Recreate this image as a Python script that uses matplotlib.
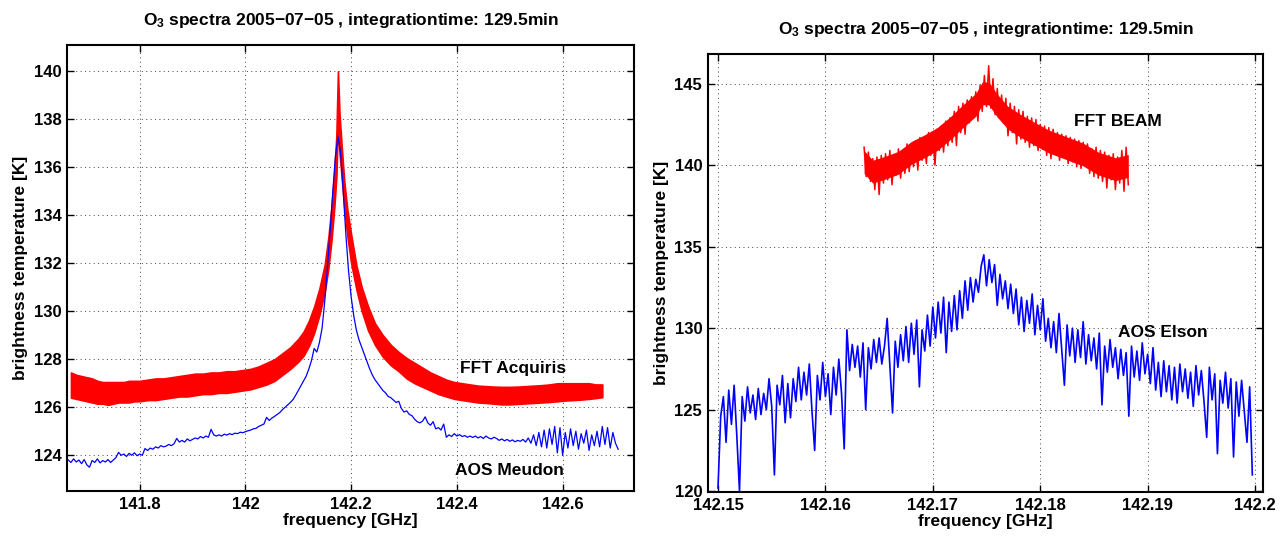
import numpy as np
import matplotlib
matplotlib.use("Agg")
import matplotlib.pyplot as plt

plt.rcParams['font.family'] = ['Liberation Sans', 'DejaVu Sans']
plt.rcParams['font.weight'] = 'bold'
plt.rcParams['mathtext.fontset'] = 'custom'
plt.rcParams['mathtext.rm'] = 'Liberation Sans:bold'
plt.rcParams['mathtext.bf'] = 'Liberation Sans:bold'
plt.rcParams['mathtext.default'] = 'bf'

# ---------------- data ----------------
title_text = "O$_3$ spectra 2005\u221207\u221205 , integrationtime: 129.5min"

# Left panel: FFT Acquiris (dense noisy band -> lower/upper envelope)
acq_freq = [141.670, 141.680, 141.690, 141.700, 141.710, 141.720, 141.730, 141.740, 141.750, 141.760,
            141.770, 141.780, 141.790, 141.800, 141.815, 141.830, 141.845, 141.860, 141.875, 141.890,
            141.905, 141.920, 141.935, 141.950, 141.965, 141.980, 141.995, 142.010, 142.025, 142.040,
            142.055, 142.070, 142.085, 142.100, 142.110, 142.120, 142.130, 142.140, 142.150, 142.157,
            142.163, 142.168, 142.172, 142.175, 142.178, 142.182, 142.187, 142.193, 142.200, 142.210,
            142.220, 142.232, 142.245, 142.260, 142.275, 142.290, 142.305, 142.320, 142.335, 142.350,
            142.365, 142.380, 142.395, 142.410, 142.425, 142.440, 142.455, 142.470, 142.485, 142.500,
            142.515, 142.530, 142.545, 142.560, 142.575, 142.590, 142.605, 142.620, 142.635, 142.650,
            142.662, 142.675]
acq_upper = [127.45, 127.35, 127.30, 127.25, 127.20, 127.10, 127.05, 127.05, 127.05, 127.05,
             127.05, 127.10, 127.10, 127.10, 127.15, 127.20, 127.20, 127.25, 127.30, 127.35,
             127.40, 127.40, 127.45, 127.45, 127.50, 127.50, 127.55, 127.60, 127.70, 127.85,
             128.00, 128.25, 128.50, 128.85, 129.15, 129.60, 130.20, 130.95, 131.95, 133.10,
             134.40, 135.80, 137.30, 140.00, 138.20, 136.90, 135.40, 134.20, 133.20, 131.90,
             131.00, 130.20, 129.50, 129.00, 128.60, 128.30, 128.05, 127.85, 127.65, 127.45,
             127.30, 127.15, 127.05, 127.00, 126.95, 126.90, 126.88, 126.86, 126.85, 126.85,
             126.86, 126.88, 126.90, 126.92, 126.95, 127.00, 127.00, 127.00, 127.00, 127.00,
             126.95, 126.95]
acq_lower = [126.40, 126.35, 126.30, 126.25, 126.20, 126.15, 126.15, 126.10, 126.15, 126.20,
             126.20, 126.20, 126.25, 126.25, 126.30, 126.30, 126.35, 126.40, 126.45, 126.45,
             126.50, 126.55, 126.55, 126.60, 126.60, 126.65, 126.70, 126.75, 126.85, 126.95,
             127.10, 127.35, 127.60, 127.90, 128.15, 128.55, 129.10, 129.85, 130.80, 131.80,
             133.00, 134.30, 135.60, 137.80, 136.60, 135.60, 134.30, 133.10, 132.00, 130.90,
             130.00, 129.20, 128.60, 128.10, 127.75, 127.50, 127.20, 127.00, 126.85, 126.70,
             126.55, 126.45, 126.35, 126.30, 126.25, 126.20, 126.18, 126.15, 126.12, 126.12,
             126.14, 126.16, 126.18, 126.20, 126.22, 126.25, 126.28, 126.30, 126.32, 126.35,
             126.38, 126.42]

# Left panel: AOS Meudon (channel grid 141.665 .. 142.705, step 5 MHz)
meudon_start, meudon_stop = 141.665, 142.705
meudon_temp = [
    123.80, 123.70, 123.85, 123.72, 123.80, 123.65, 123.82, 123.60, 123.50, 123.78,
    123.70, 123.85, 123.68, 123.78, 123.72, 123.82, 123.70, 123.80, 123.90, 124.12,
    124.00, 124.05, 123.95, 124.08, 124.00, 124.10, 123.98, 124.05, 124.00, 124.28,
    124.20, 124.30, 124.25, 124.35, 124.30, 124.40, 124.35, 124.38, 124.45, 124.40,
    124.48, 124.70, 124.55, 124.62, 124.55, 124.68, 124.60, 124.66, 124.72, 124.68,
    124.78, 124.72, 124.80, 124.75, 125.08, 124.85, 124.80, 124.85, 124.80, 124.88,
    124.84, 124.90, 124.86, 124.92, 124.90, 124.96, 124.94, 124.98, 125.02, 125.05,
    125.10, 125.12, 125.20, 125.25, 125.30, 125.58, 125.45, 125.55, 125.62, 125.70,
    125.78, 125.90, 126.00, 126.10, 126.20, 126.32, 126.50, 126.70, 126.90, 127.10,
    127.30, 127.60, 127.95, 128.45, 128.30, 128.70, 129.30, 130.40, 131.80, 133.30,
    134.90, 136.40, 137.30, 136.60, 135.00, 133.20, 131.70, 130.60, 129.80, 129.20,
    128.80, 128.50, 128.20, 127.90, 127.60, 127.35, 127.15, 127.00, 126.85, 126.70,
    126.60, 126.45, 126.40, 126.30, 126.20, 126.25, 125.95, 125.80, 125.85, 125.70,
    125.65, 125.50, 125.40, 125.35, 125.42, 125.60, 125.35, 125.25, 125.40, 125.10,
    125.15, 125.05, 125.30, 124.75, 124.85, 124.78, 124.90, 124.80, 124.86, 124.78,
    124.82, 124.75, 124.80, 124.74, 124.80, 124.72, 124.78, 124.70, 124.80, 124.72,
    124.68, 124.75, 124.70, 124.62, 124.68, 124.60, 124.66, 124.58, 124.64, 124.56,
    124.62, 124.58, 124.66, 124.55, 124.72, 124.50, 124.85, 124.40, 124.95, 124.35,
    125.05, 124.30, 125.10, 124.45, 125.20, 124.10, 125.15, 124.00, 124.95, 124.30,
    125.10, 124.40, 125.00, 124.25, 124.90, 124.50, 125.05, 124.20, 124.85, 124.40,
    125.00, 124.35, 125.20, 124.45, 125.15, 124.30, 124.95, 124.50, 124.25]

# Right panel: FFT BEAM (channel grid 142.1636 .. 142.1882) + dense core band
beam_start, beam_stop = 142.1636, 142.1882
beam_temp = [
    141.1, 139.3, 140.8, 139.0, 140.4, 138.5, 140.5, 138.2, 140.6, 138.9,
    140.7, 139.1, 140.9, 138.8, 140.6, 139.4, 141.0, 139.2, 140.8, 139.5,
    141.3, 139.6, 141.0, 139.9, 141.5, 139.7, 141.7, 140.3, 141.6, 140.1,
    142.0, 140.6, 141.8, 140.0, 142.2, 140.9, 142.4, 140.8, 142.7, 141.2,
    142.9, 141.4, 143.3, 141.2, 143.6, 142.0, 143.8, 141.9, 144.0, 142.6,
    144.2, 142.9, 144.5, 142.7, 144.9, 143.3, 145.5, 143.6, 146.1, 143.5,
    145.3, 143.1, 144.7, 142.9, 144.3, 142.6, 144.1, 141.8, 143.8, 142.0,
    143.6, 141.3, 143.4, 141.6, 143.3, 141.4, 143.0, 141.1, 142.9, 141.2,
    142.8, 140.9, 142.5, 141.0, 142.4, 140.6, 142.3, 140.4, 142.2, 140.7,
    142.0, 140.3, 141.9, 140.5, 141.8, 140.1, 141.7, 140.2, 141.6, 139.9,
    141.5, 139.8, 141.4, 140.0, 141.3, 139.5, 141.0, 139.3, 141.1, 139.2,
    140.9, 139.0, 140.8, 138.6, 140.6, 139.1, 140.7, 138.5, 140.5, 138.9,
    140.9, 138.4, 141.1, 138.8]
beam_core_freq = [142.1636, 142.1644, 142.1656, 142.1668, 142.1680, 142.1692, 142.1704, 142.1716,
                  142.1728, 142.1740, 142.1746, 142.1752, 142.1760, 142.1770, 142.1782, 142.1794,
                  142.1808, 142.1824, 142.1840, 142.1854, 142.1870, 142.1882]
beam_core_lower = [139.50, 138.90, 139.15, 139.45, 140.05, 140.45, 140.90, 141.55, 142.30, 143.00,
                   143.70, 143.70, 142.95, 142.20, 141.70, 141.25, 140.75, 140.35, 139.95, 139.40,
                   139.05, 139.25]
beam_core_upper = [140.90, 140.30, 140.55, 140.85, 141.45, 141.85, 142.30, 142.95, 143.70, 144.40,
                   145.10, 145.10, 144.35, 143.60, 143.10, 142.65, 142.15, 141.75, 141.35, 140.80,
                   140.45, 140.65]

# Right panel: AOS Elson (channel grid 142.1500 .. 142.19975)
elson_start, elson_stop = 142.1500, 142.19975
elson_temp = [
    120.2, 124.6, 125.8, 123.0, 126.2, 124.1, 126.5, 123.4, 120.0, 125.8,
    124.3, 126.4, 124.8, 125.9, 124.4, 126.3, 124.7, 126.0, 125.0, 126.9,
    125.2, 121.0, 126.5, 125.3, 127.1, 124.2, 126.6, 124.5, 126.9, 125.5,
    127.6, 125.6, 127.3, 125.9, 127.8, 124.9, 122.5, 127.1, 125.6, 127.9,
    125.8, 127.2, 124.7, 127.6, 125.9, 128.1, 126.0, 122.6, 129.9, 127.4,
    129.0, 127.6, 128.9, 127.0, 129.1, 125.0, 128.8, 127.5, 129.3, 127.9,
    129.4, 127.8, 128.9, 130.6, 127.7, 124.8, 129.2, 127.6, 129.6, 128.0,
    130.1, 127.9, 130.3, 128.4, 130.5, 126.4, 129.9, 128.6, 130.8, 128.9,
    131.3, 129.4, 131.6, 129.7, 131.9, 128.5, 131.6, 129.8, 132.0, 129.9,
    132.3, 130.6, 132.9, 131.1, 133.1, 131.6, 133.0, 132.2, 133.8, 134.5,
    132.6, 134.2, 132.8, 133.9, 131.4, 133.3, 131.8, 132.9, 131.2, 132.7,
    130.9, 132.4, 130.2, 131.9, 129.8, 131.7, 130.3, 132.1, 129.6, 131.4,
    129.9, 131.8, 129.2, 130.6, 128.8, 130.4, 128.5, 130.9, 128.7, 126.5,
    130.2, 128.3, 130.0, 127.9, 129.9, 128.2, 130.4, 127.8, 129.6, 128.0,
    129.4, 127.5, 129.7, 125.3, 128.9, 127.3, 129.3, 127.6, 128.8, 126.9,
    128.7, 127.1, 128.5, 124.6, 128.9, 127.0, 128.6, 126.8, 129.1, 127.2,
    128.4, 126.6, 128.8, 126.2, 127.9, 125.8, 128.0, 126.1, 127.7, 125.6,
    127.6, 125.4, 127.8, 126.1, 127.5, 125.7, 127.3, 125.2, 127.7, 125.9,
    127.4, 125.5, 123.3, 127.6, 125.6, 127.2, 122.3, 126.8, 125.4, 127.3,
    125.1, 126.9, 122.1, 126.7, 124.6, 126.8, 124.9, 123.0, 126.4, 121.0]

left_xticks = [141.8, 142.0, 142.2, 142.4, 142.6]
left_xticklabels = ['141.8', '142', '142.2', '142.4', '142.6']
left_yticks = [124, 126, 128, 130, 132, 134, 136, 138, 140]
right_xticks = [142.15, 142.16, 142.17, 142.18, 142.19, 142.2]
right_xticklabels = ['142.15', '142.16', '142.17', '142.18', '142.19', '142.2']
right_yticks = [120, 125, 130, 135, 140, 145]

# ---------------- figure ----------------
W, H = 1284, 538
fig = plt.figure(figsize=(W / 100, H / 100), dpi=100)

def px_axes(x0, y0, x1, y1):
    return fig.add_axes([x0 / W, 1 - y1 / H, (x1 - x0) / W, (y1 - y0) / H])

axL = px_axes(67, 44.7, 634, 491)
axR = px_axes(707.7, 54.3, 1263.3, 492)

FS = 12
FS_LAB = 12.5
grid_kw = dict(color='#444444', linestyle=(0, (1, 3.5)), linewidth=0.7)

def style(ax):
    ax.grid(True, **grid_kw)
    ax.set_axisbelow(True)
    ax.tick_params(direction='in', length=5, width=1, top=True, right=True,
                   labelsize=FS, pad=4)
    for sp in ax.spines.values():
        sp.set_linewidth(1.5)
    for lab in ax.get_xticklabels() + ax.get_yticklabels():
        lab.set_fontweight('bold')
    ax.set_title(title_text, fontsize=FS_LAB, fontweight='bold', pad=14.5)
    ax.set_xlabel('frequency [GHz]', fontsize=FS_LAB, fontweight='bold', labelpad=1)
    ax.set_ylabel('brightness temperature [K]', fontsize=FS_LAB, fontweight='bold', labelpad=4)

RED = '#ff0000'
BLUE = '#0000ff'

# Left panel
meudon_freq = np.linspace(meudon_start, meudon_stop, len(meudon_temp))
axL.fill_between(acq_freq, acq_lower, acq_upper, color=RED, linewidth=1.2,
                 edgecolor=RED, zorder=3)
axL.plot(meudon_freq, meudon_temp, color=BLUE, linewidth=0.9, zorder=4)
axL.set_xlim(141.6625, 142.735)
axL.set_ylim(122.51, 141.11)
axL.set_xticks(left_xticks)
axL.set_xticklabels(left_xticklabels)
axL.set_yticks(left_yticks)
axL.text(142.405, 127.6, 'FFT Acquiris', fontsize=FS_LAB, fontweight='bold', va='center', ha='left')
axL.text(142.397, 123.35, 'AOS Meudon', fontsize=FS_LAB, fontweight='bold', va='center', ha='left')
style(axL)

# Right panel
beam_freq = np.linspace(beam_start, beam_stop, len(beam_temp))
elson_freq = np.linspace(elson_start, elson_stop, len(elson_temp))
axR.fill_between(beam_core_freq, beam_core_lower, beam_core_upper, color=RED, linewidth=0, zorder=3)
axR.plot(beam_freq, beam_temp, color=RED, linewidth=1.1, zorder=3)
axR.plot(elson_freq, elson_temp, color=BLUE, linewidth=1.2, zorder=3)
axR.set_xlim(142.14904, 142.20077)
axR.set_ylim(119.95, 146.8)
axR.set_xticks(right_xticks)
axR.set_xticklabels(right_xticklabels)
axR.set_yticks(right_yticks)
axR.text(142.1831, 142.7, 'FFT BEAM', fontsize=FS_LAB, fontweight='bold', va='center', ha='left')
axR.text(142.1872, 129.76, 'AOS Elson', fontsize=FS_LAB, fontweight='bold', va='center', ha='left')
style(axR)

fig.savefig('out.png', dpi=100)
